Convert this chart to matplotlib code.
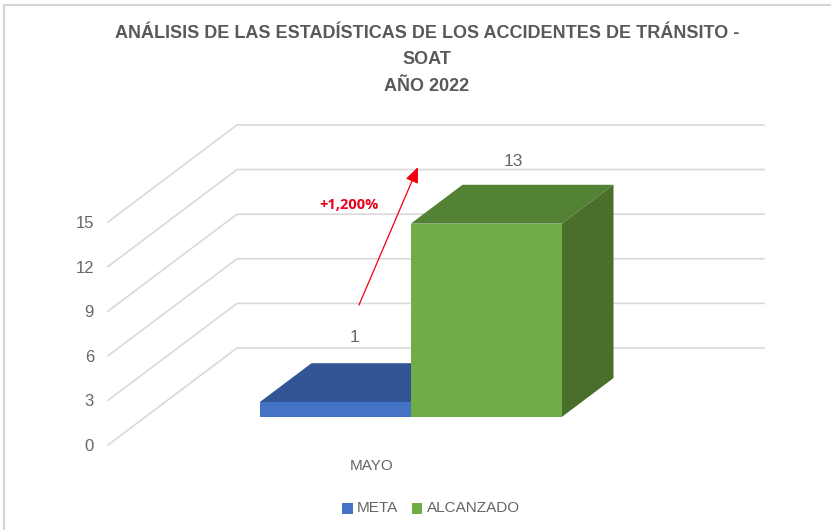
import matplotlib
matplotlib.use("Agg")
import matplotlib.pyplot as plt
from matplotlib.patches import Polygon, Rectangle
from matplotlib.lines import Line2D

title = "ANÁLISIS DE LAS ESTADÍSTICAS DE LOS ACCIDENTES DE TRÁNSITO -\nSOAT\nAÑO 2022"
category = "MAYO"
series_names = ["META", "ALCANZADO"]
series_values = [1, 13]
y_ticks = [0, 3, 6, 9, 12, 15]
change_label = "+1,200%"

front_colors = ["#4472C4", "#70AD47"]
top_colors = ["#325596", "#548235"]
side_colors = ["#2A4A85", "#4A6F2A"]

W, H = 831, 530
PX_X = 527.0    # pixels for one category band
PX_Y = 14.87    # pixels for one value unit
DEPTH_DX = 129.0 / PX_X
DEPTH_DY = 97.0 / PX_Y
GRID_C = "#D9D9D9"
TEXT_C = "#595959"
THIN_C = "#666666"
FONT = "Liberation Sans"


def proj(x, v, d=0.0):
    # oblique projection: depth d runs 0 (front) to 1 (back wall)
    return x + d * DEPTH_DX, v + d * DEPTH_DY


fig = plt.figure(figsize=(W / 100, H / 100), dpi=100)
ax = fig.add_axes([0, 0, 1, 1])
ax.set_xlim(-108 / PX_X, (W - 108) / PX_X)
ax.set_ylim(-(H - 445) / PX_Y, 445 / PX_Y)
ax.axis("off")

# chart border, only top and left show in the screenshot
fig.add_artist(Line2D([4 / W, 4 / W, 1], [0, 1 - 4.5 / H, 1 - 4.5 / H], color="#D4D4D4", lw=1.5))

for t in y_ticks:
    xs, ys = zip(proj(0, t), proj(0, t, 1), proj(1, t, 1))
    ax.plot(xs, ys, color=GRID_C, lw=1.2, zorder=1)
    ax.text(-14 / PX_X, t - 1.5 / PX_Y, str(t), ha="right", va="center", fontsize=12,
            color=THIN_C, family=FONT)

bar_w = 151 / PX_X
d0, d1 = 0.289, 0.69
x_left = 0.5 - bar_w + 2 / PX_X
label_offsets = [(19, 65), (27, 62)]
for i, val in enumerate(series_values):
    a = x_left + i * bar_w
    b = a + bar_w
    z = 2 + i
    ax.add_patch(Polygon([proj(a, 0, d0), proj(b, 0, d0), proj(b, val, d0), proj(a, val, d0)],
                         fc=front_colors[i], ec="none", zorder=z + 0.2))
    ax.add_patch(Polygon([proj(a, val, d0), proj(b, val, d0), proj(b, val, d1), proj(a, val, d1)],
                         fc=top_colors[i], ec="none", zorder=z))
    ax.add_patch(Polygon([proj(b, 0, d0), proj(b, val, d0), proj(b, val, d1), proj(b, 0, d1)],
                         fc=side_colors[i], ec="none", zorder=z + 0.1))
    off = label_offsets[i]
    ax.annotate(str(val), xy=proj((a + b) / 2, val, d0), xytext=(off[0] * 0.72, off[1] * 0.72),
                textcoords="offset points", ha="center", va="center", fontsize=12.5,
                color=THIN_C, family=FONT, zorder=6)

# red arrow added on top of the chart
ax.annotate("", xy=((418 - 108) / PX_X, (445 - 167) / PX_Y), xytext=((359 - 108) / PX_X, (445 - 305) / PX_Y),
            arrowprops=dict(arrowstyle="-|>,head_width=0.4,head_length=0.95", color="#F0000F", lw=0.9,
                            shrinkA=0, shrinkB=0), zorder=7)
ax.text((349 - 108) / PX_X, (445 - 205) / PX_Y, change_label, ha="center", va="center", fontsize=10.5,
        fontweight="bold", color="#E8001C", family=["Open Sans", "Liberation Sans"], zorder=7)

ax.text((372 - 108) / PX_X, (445 - 466) / PX_Y, category, ha="center", va="center", fontsize=11,
        color=THIN_C, family=FONT)

fig.text(427 / W, 1 - 60 / H, title, ha="center", va="center", fontsize=12.95, fontweight="bold",
         color=TEXT_C, family=FONT, linespacing=1.72)

# legend
leg_y = 1 - 508 / H
for name, col, sx in zip(series_names, front_colors, [342, 412]):
    fig.add_artist(Rectangle((sx / W, leg_y - 5.5 / H), 10.5 / W, 11 / H, transform=fig.transFigure,
                             fc=col, ec="none"))
    fig.text((sx + 14.5) / W, leg_y, name, ha="left", va="center", fontsize=11, color=THIN_C, family=FONT)

fig.savefig("out.png", dpi=100)
